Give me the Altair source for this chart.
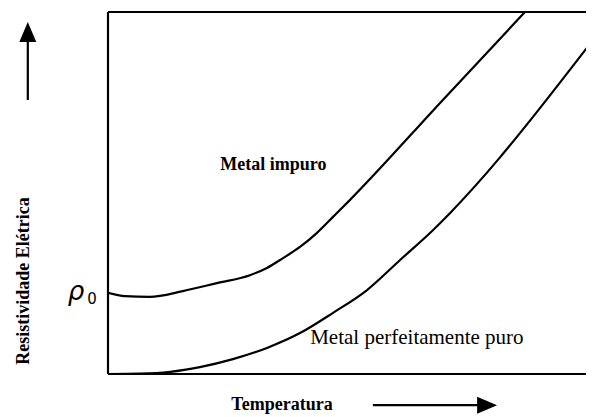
import altair as alt
import pandas as pd

# Curves (arbitrary units)
temp_impuro = [0.0, 0.35, 0.86, 1.54, 2.24, 2.92, 3.27, 3.60, 3.95, 4.30, 4.63, 4.98, 6.89, 8.58]
res_impuro = [2.24, 2.15, 2.13, 2.29, 2.51, 2.73, 2.93, 3.20, 3.51, 3.90, 4.34, 4.81, 7.57, 10.0]

temp_puro = [0.0, 0.66, 1.28, 1.89, 2.57, 3.27, 3.95, 4.63, 5.33, 6.01, 6.69, 7.04, 8.07, 8.48, 9.98]
res_puro = [0.0, 0.01, 0.06, 0.19, 0.41, 0.72, 1.13, 1.69, 2.32, 3.15, 3.98, 4.45, 5.99, 6.66, 9.23]

rho0 = 2.24

label_text = ["Metal impuro", "Metal perfeitamente puro"]
label_t = [2.31, 4.16]
label_r = [5.64, 0.83]

x_title = "Temperatura"
y_title = "Resistividade Elétrica"

FONT = "Liberation Serif"

df = pd.concat([
    pd.DataFrame({"t": temp_impuro, "r": res_impuro, "s": "impuro"}),
    pd.DataFrame({"t": temp_puro, "r": res_puro, "s": "puro"}),
])

xs = alt.Scale(domain=[0, 9.835], nice=False, zero=False)
ys = alt.Scale(domain=[0, 10], nice=False, zero=False)


def X(f):
    return alt.X(f, scale=xs, axis=None)


def Y(f):
    return alt.Y(f, scale=ys, axis=None)


lines = alt.Chart(df).mark_line(
    color="black", strokeWidth=2.2, interpolate="monotone", clip=True
).encode(x=X("t:Q"), y=Y("r:Q"), detail="s:N")

# frame: left, bottom and top edges
left = alt.Chart(pd.DataFrame({"t": [0.0]})).mark_rule(color="black", strokeWidth=2.2).encode(x=X("t:Q"))
bottom = alt.Chart(pd.DataFrame({"r": [0.0]})).mark_rule(color="black", strokeWidth=2.2).encode(y=Y("r:Q"))
top = alt.Chart(pd.DataFrame({"r": [10.0]})).mark_rule(color="black", strokeWidth=2.2).encode(y=Y("r:Q"))

lab1 = alt.Chart(pd.DataFrame({"t": [label_t[0]], "r": [label_r[0]], "txt": [label_text[0]]})).mark_text(
    align="left", baseline="alphabetic", font=FONT, color="black", fontWeight="bold", fontSize=18
).encode(x=X("t:Q"), y=Y("r:Q"), text="txt:N")

lab2 = alt.Chart(pd.DataFrame({"t": [label_t[1]], "r": [label_r[1]], "txt": [label_text[1]]})).mark_text(
    align="left", baseline="alphabetic", font=FONT, color="black", fontWeight="normal", fontSize=21
).encode(x=X("t:Q"), y=Y("r:Q"), text="txt:N")

# axis titles
xt = alt.Chart(pd.DataFrame({"t": [3.58], "r": [-0.99], "txt": [x_title]})).mark_text(
    align="center", baseline="alphabetic", font=FONT, color="black", fontWeight="bold", fontSize=18
).encode(x=X("t:Q"), y=Y("r:Q"), text="txt:N")
yt = alt.Chart(pd.DataFrame({"t": [-1.73], "r": [2.57], "txt": [y_title]})).mark_text(
    align="center", baseline="middle", font=FONT, color="black", fontWeight="bold", fontSize=18,
    angle=270
).encode(x=X("t:Q"), y=Y("r:Q"), text="txt:N")

# rho_0 marker label (rho + subscript 0)
rho_sym = alt.Chart(pd.DataFrame({"t": [-0.66], "r": [rho0], "txt": ["ρ"]})).mark_text(
    align="center", baseline="alphabetic", font="DejaVu Sans", fontStyle="italic",
    fontSize=26, color="black", dy=7
).encode(x=X("t:Q"), y=Y("r:Q"), text="txt:N")
rho_sub = alt.Chart(pd.DataFrame({"t": [-0.33], "r": [rho0], "txt": ["0"]})).mark_text(
    align="center", baseline="alphabetic", font="DejaVu Sans",
    fontSize=15, color="black", dy=11
).encode(x=X("t:Q"), y=Y("r:Q"), text="txt:N")

# Arrows
x_arrow_shaft = [5.45, 7.70]
x_arrow_y = -0.86
y_arrow_x = -1.65
y_arrow_shaft = [7.57, 9.35]

xshaft = alt.Chart(pd.DataFrame({"t": [x_arrow_shaft[0]], "t2": [x_arrow_shaft[1]], "r": [x_arrow_y]})).mark_rule(
    color="black", strokeWidth=2.2).encode(x=X("t:Q"), x2="t2:Q", y=Y("r:Q"))
xhead = alt.Chart(pd.DataFrame({"t": [7.80], "r": [x_arrow_y]})).mark_point(
    shape="M-1,-0.85L1,0L-1,0.85Z", filled=True, color="black", opacity=1, size=400).encode(
    x=X("t:Q"), y=Y("r:Q"))

yshaft = alt.Chart(pd.DataFrame({"t": [y_arrow_x], "r": [y_arrow_shaft[0]], "r2": [y_arrow_shaft[1]]})).mark_rule(
    color="black", strokeWidth=2.2).encode(x=X("t:Q"), y=Y("r:Q"), y2="r2:Q")
yhead = alt.Chart(pd.DataFrame({"t": [y_arrow_x], "r": [9.45]})).mark_point(
    shape="M-0.85,1L0,-1L0.85,1Z", filled=True, color="black", opacity=1, size=400).encode(
    x=X("t:Q"), y=Y("r:Q"))

chart = alt.layer(lines, left, bottom, top, lab1, lab2, xt, yt, rho_sym, rho_sub,
                  xshaft, xhead, yshaft, yhead).properties(
    width=478, height=362,
    autosize=alt.AutoSizeParams(type="none"),
    padding={"left": 100, "top": 4, "right": 0, "bottom": 40},
    background="white",
).configure_view(strokeWidth=0)

chart.save("out.html", embed_options={"renderer": "svg", "actions": False})
